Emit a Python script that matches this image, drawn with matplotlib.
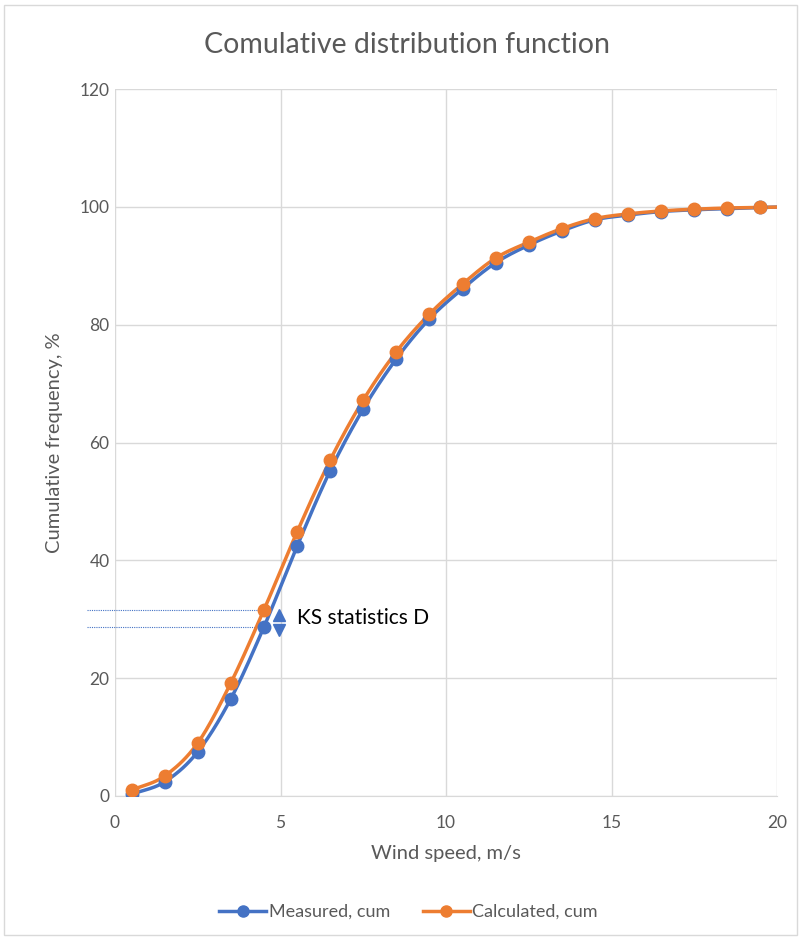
import numpy as np
import matplotlib
matplotlib.use("Agg")
import matplotlib.pyplot as plt
from matplotlib.patches import Rectangle
from matplotlib.lines import Line2D

plt.rcParams['font.family'] = ['Lato', 'DejaVu Sans']

# wind speed bins (m/s) and cumulative frequencies (%)
wind_speed = [0.5, 1.5, 2.5, 3.5, 4.5, 5.5, 6.5, 7.5, 8.5, 9.5,
              10.5, 11.5, 12.5, 13.5, 14.5, 15.5, 16.5, 17.5, 18.5, 19.5, 20.5]
measured_cum = [0.3, 2.4, 7.5, 16.5, 28.7, 42.4, 55.2, 65.7, 74.2, 81.0,
                86.1, 90.5, 93.5, 95.9, 97.8, 98.6, 99.2, 99.5, 99.7, 99.9, 100.0]
calculated_cum = [1.0, 3.4, 9.0, 19.2, 31.6, 44.8, 57.0, 67.2, 75.4, 81.8,
                  86.9, 91.3, 94.0, 96.3, 98.0, 98.8, 99.3, 99.6, 99.8, 99.9, 100.0]

ks_x = 4.5
ks_text = "KS statistics D"

BLUE = "#4472C4"
ORANGE = "#ED7D31"
GRAY = "#595959"


def smooth(x, y, n=20):
    """Catmull-Rom curve through the points, like Excel's smoothed line"""
    x = np.asarray(x, float)
    y = np.asarray(y, float)
    px = np.concatenate([[2 * x[0] - x[1]], x, [2 * x[-1] - x[-2]]])
    py = np.concatenate([[2 * y[0] - y[1]], y, [2 * y[-1] - y[-2]]])
    t = np.linspace(0, 1, n, endpoint=False)
    xs, ys = [], []
    for i in range(1, len(px) - 2):
        for p, out in ((px, xs), (py, ys)):
            p0, p1, p2, p3 = p[i - 1], p[i], p[i + 1], p[i + 2]
            out.extend(0.5 * (2 * p1 + (-p0 + p2) * t
                              + (2 * p0 - 5 * p1 + 4 * p2 - p3) * t ** 2
                              + (-p0 + 3 * p1 - 3 * p2 + p3) * t ** 3))
    xs.append(x[-1])
    ys.append(y[-1])
    return np.array(xs), np.array(ys)


fig = plt.figure(figsize=(8.01, 9.40), dpi=100)
ax = fig.add_axes([115 / 801, 144 / 940, 662 / 801, 707 / 940])

# chart border
fig.patches.append(Rectangle((4 / 801, 5 / 940), 793 / 801, 930 / 940,
                             transform=fig.transFigure, fill=False,
                             edgecolor="#d9d9d9", linewidth=1))

for xs, ys, c in ((wind_speed, measured_cum, BLUE), (wind_speed, calculated_cum, ORANGE)):
    sx, sy = smooth(xs, ys)
    ax.plot(sx, sy, color=c, lw=2.5, solid_capstyle='round', zorder=3)
    ax.plot(xs, ys, 'o', color=c, ms=9, zorder=4)

# KS statistic guides
i = wind_speed.index(ks_x)
for val in (calculated_cum[i], measured_cum[i]):
    ax.plot([-0.85, ks_x], [val, val], color=BLUE, lw=0.8, ls=(0, (1, 1)),
            clip_on=False, zorder=2)
ax.plot(4.95, 30.75, marker='^', color=BLUE, ms=8.5, zorder=5)
ax.plot(4.95, 28.15, marker='v', color=BLUE, ms=8.5, zorder=5)
ax.text(5.5, (calculated_cum[i] + measured_cum[i]) / 2, ks_text,
        fontsize=15, color="black", va='center', ha='left')

ax.set_xlim(0, 20)
ax.set_ylim(0, 120)
ax.set_xticks([0, 5, 10, 15, 20])
ax.set_yticks(range(0, 121, 20))
ax.grid(True, color="#d9d9d9", lw=1)
ax.set_axisbelow(True)
for s in ('top', 'right', 'left'):
    ax.spines[s].set_visible(False)
ax.spines['bottom'].set_color("#d9d9d9")
ax.tick_params(length=0, labelsize=12.5, colors=GRAY)
ax.tick_params(axis='x', pad=14)
ax.tick_params(axis='y', pad=4)

fig.text(0.508, 1 - 45 / 940, "Comulative distribution function", fontsize=20.5,
         color=GRAY, ha='center', va='center')
ax.set_xlabel("Wind speed, m/s", fontsize=14.5, color=GRAY, labelpad=10)
ax.set_ylabel("Cumulative frequency, %", fontsize=14.5, color=GRAY, labelpad=12)

handles = [Line2D([], [], color=BLUE, lw=2.5, marker='o', ms=8),
           Line2D([], [], color=ORANGE, lw=2.5, marker='o', ms=8)]
fig.legend(handles, ["Measured, cum", "Calculated, cum"], loc='center',
           bbox_to_anchor=(0.51, 28 / 940), ncol=2, frameon=False,
           fontsize=13, labelcolor=GRAY, handlelength=2.6, columnspacing=1.8,
           handletextpad=0.15)

fig.savefig("out.png", dpi=100)
